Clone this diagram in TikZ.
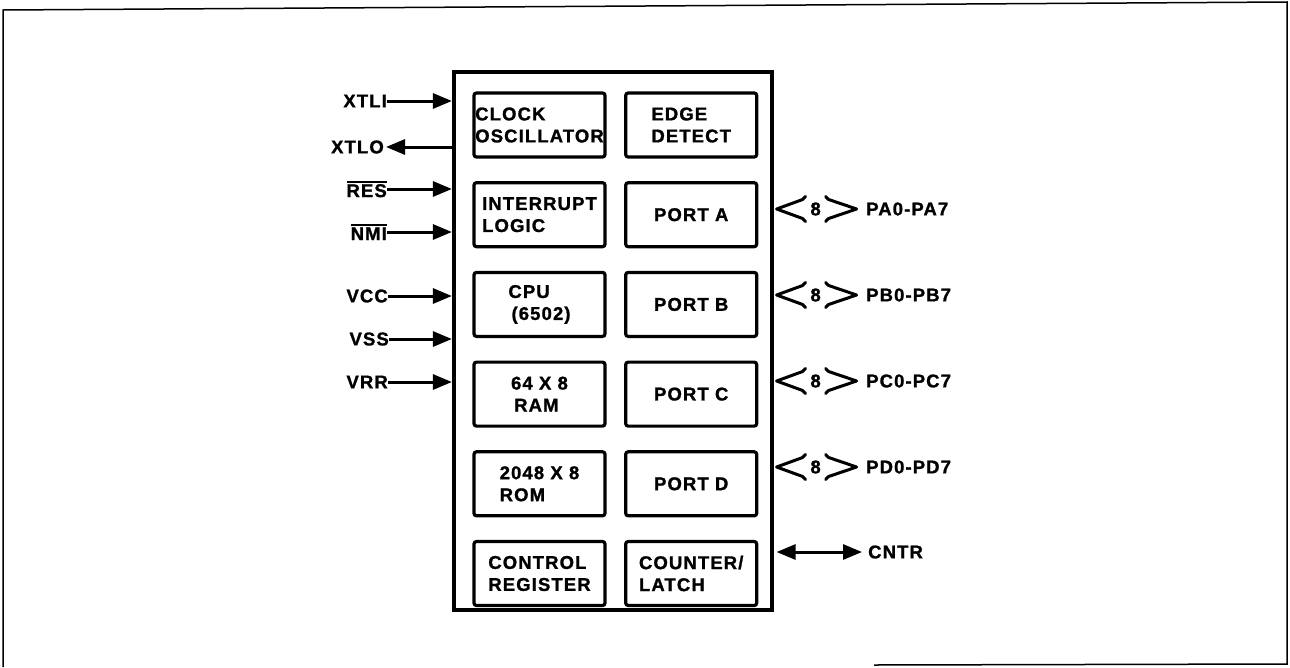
\documentclass[tikz,border=0pt]{standalone}
\usepackage{fontspec}
\setmainfont{Liberation Sans}
\usetikzlibrary{arrows.meta,positioning}
\newcommand\barname[1]{\leavevmode\vbox{\hrule height 1.8pt\kern1.6pt\hbox{#1}}}

\begin{document}
\begin{tikzpicture}[x=1pt,y=-1pt,
  font=\fontsize{18.5}{22}\selectfont\bfseries\addfontfeature{LetterSpace=6,FakeBold=1.2},
  unit/.style={draw,line width=3.2pt,rounded corners=2.5pt,minimum width=131pt,minimum height=64pt,align=left,inner sep=0pt},
  pin/.style={line width=3pt,-{Triangle[length=19pt,width=15pt]}},
  dpin/.style={pin,{Triangle[length=19pt,width=15pt]}-{Triangle[length=19pt,width=15pt]}},
  bus/.style={line width=3pt,line join=round,line cap=round},
  lbl/.style={inner sep=0pt}]
  \useasboundingbox (0,0) rectangle (1290,667);
  % sheet frame
  \draw[line width=1.5pt] (3,667) -- (3,10) -- (1287,2) -- (1287,664) -- (874,665);
  % chip outline and its blocks
  \node[draw,line width=4.2pt,minimum width=318pt,minimum height=538pt] (chip) at (613,341) {};
  \node[unit] (clk) at (539.5,125) {CLOCK\\OSCILLATOR};
  \node[unit,below=22.5pt of clk] (irq) {INTERRUPT\\LOGIC};
  \node[unit,below=22.5pt of irq] (cpu) {CPU\\\,(6502)};
  \node[unit,below=22.5pt of cpu] (ram) {64 X 8\\\,RAM};
  \node[unit,below=22.5pt of ram] (rom) {2048 X 8\\ROM};
  \node[unit,below=22.5pt of rom] (ctl) {CONTROL\\REGISTER};
  \node[unit,right=17.5pt of clk] (edge) {EDGE\\DETECT};
  \node[unit,right=17.5pt of irq] (porta) {PORT A};
  \node[unit,right=17.5pt of cpu] (portb) {PORT B};
  \node[unit,right=17.5pt of ram] (portc) {PORT C};
  \node[unit,right=17.5pt of rom] (portd) {PORT D};
  \node[unit,right=17.5pt of ctl] (cnt) {COUNTER/\\LATCH};
  % left side pins
  \node[lbl,anchor=east] (xtli) at (387,101) {XTLI};
  \node[lbl,anchor=east] (xtlo) at (384,147) {XTLO};
  \node[lbl,anchor=east] (res) at (387,189) {\barname{RES}};
  \node[lbl,anchor=east] (nmi) at (387,232) {\barname{NMI}};
  \node[lbl,anchor=east] (vcc) at (388,296) {VCC};
  \node[lbl,anchor=east] (vss) at (389,339) {VSS};
  \node[lbl,anchor=east] (vrr) at (388,382) {VRR};
  \draw[pin] (xtli.east) -- (xtli.east -| chip.west);
  \draw[pin] (xtlo.east -| chip.west) -- ([xshift=2pt]xtlo.east);
  \draw[pin] (res.east) -- (res.east -| chip.west);
  \draw[pin] (nmi.east) -- (nmi.east -| chip.west);
  \draw[pin] (vcc.east) -- (vcc.east -| chip.west);
  \draw[pin] (vss.east) -- (vss.east -| chip.west);
  \draw[pin] (vrr.east) -- (vrr.east -| chip.west);
  % right side ports
  \node[lbl,anchor=west] (pa) at (866,209) {PA0-PA7};
  \node[lbl,anchor=west] (pb) at (866,295) {PB0-PB7};
  \node[lbl,anchor=west] (pc) at (866,381) {PC0-PC7};
  \node[lbl,anchor=west] (pd) at (866,467) {PD0-PD7};
  \foreach \p in {pa,pb,pc,pd}{
    \path (chip.east |- \p.west) ++(2.5,0) coordinate (l\p);
    \draw[bus] ([shift={(29,-12.5)}]l\p) -- ([shift={(26,-9.5)}]l\p) -- (l\p) -- ([shift={(26,9.5)}]l\p) -- ([shift={(29,12.5)}]l\p);
    \draw[bus] ([shift={(49,-12.5)}]l\p) -- ([shift={(52,-9.5)}]l\p) -- ([shift={(80,0)}]l\p) -- ([shift={(52,9.5)}]l\p) -- ([shift={(49,12.5)}]l\p);
    \node[lbl] (w\p) at ([shift={(39,0)}]l\p) {8};
  }
  \node[lbl,anchor=west] (cntr) at (868,552) {CNTR};
  \draw[dpin] ([xshift=2.5pt]cntr.west -| chip.east) -- ([xshift=-6pt]cntr.west);
\end{tikzpicture}
\end{document}
